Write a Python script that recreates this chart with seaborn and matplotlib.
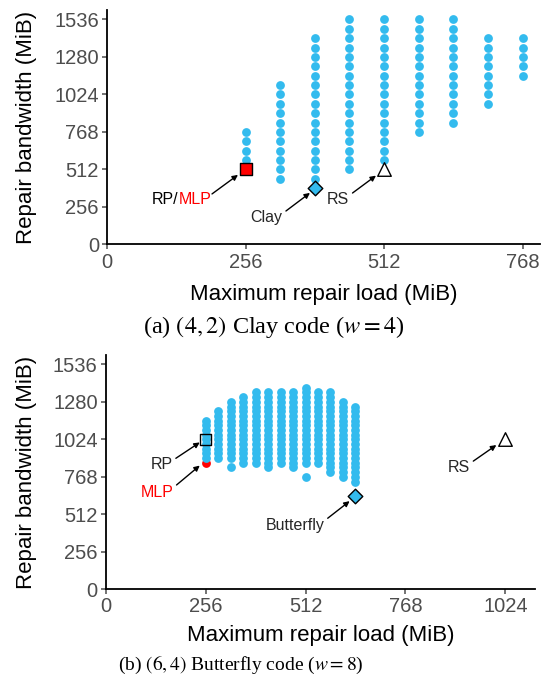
import numpy as np
import pandas as pd
import matplotlib
matplotlib.use("Agg")
import matplotlib.pyplot as plt
import seaborn as sns

# ---------------- Data ----------------
# Panel (a): (4,2) Clay code (w = 4); grid step 64 MiB
clay_load = [256, 320, 384, 448, 512, 576, 640, 704, 768]
clay_bw_min = [576, 448, 384, 512, 576, 768, 832, 960, 1152]
clay_bw_max = [768, 1088, 1408, 1536, 1536, 1536, 1536, 1408, 1408]
clay_step = 64
clay_rpmlp = (256, 512)
clay_clay = (384, 384)
clay_rs = (512, 512)

# Panel (b): (6,4) Butterfly code (w = 8); grid step 32 MiB
bf_load = [256, 288, 320, 352, 384, 416, 448, 480, 512, 544, 576, 608, 640]
bf_bw_min = [896, 896, 896, 864, 864, 832, 864, 832, 864, 864, 800, 768, 736]
bf_bw_max = [1152, 1216, 1280, 1312, 1344, 1344, 1344, 1344, 1376, 1344, 1344, 1280, 1248]
bf_extra_load = [320, 512]
bf_extra_bw = [832, 768]
bf_step = 32
bf_rp = (256, 1024)
bf_mlp = (256, 864)
bf_butterfly = (640, 640)
bf_rs = (1024, 1024)

y_ticks = [0, 256, 512, 768, 1024, 1280, 1536]
x_ticks_a = [0, 256, 512, 768]
x_ticks_b = [0, 256, 512, 768, 1024]


def grid_frame(loads, lo, hi, step, extra_x=(), extra_y=()):
    xs, ys = [], []
    for x, a, b in zip(loads, lo, hi):
        for y in range(a, b + 1, step):
            xs.append(x)
            ys.append(y)
    xs += list(extra_x)
    ys += list(extra_y)
    return pd.DataFrame({"load": xs, "bw": ys})


df_a = grid_frame(clay_load, clay_bw_min, clay_bw_max, clay_step)
df_b = grid_frame(bf_load, bf_bw_min, bf_bw_max, bf_step, bf_extra_load, bf_extra_bw)

# ---------------- Style ----------------
sns.set_theme(style="ticks")
plt.rcParams["font.family"] = ["Liberation Sans", "DejaVu Sans"]
plt.rcParams["mathtext.fontset"] = "stix"

BLUE = "#33BBEE"
RED = "#FF0000"
TICKC = "#4D4D4D"

fig = plt.figure(figsize=(5.42, 6.84), dpi=100)
W, H = 542, 684
box1 = (107, 10, 540, 244.5)      # left, top, right, bottom in px
box2 = (105.7, 355, 535, 589.3)


def add_ax(box):
    l, t, r, b = box
    return fig.add_axes([l / W, (H - b) / H, (r - l) / W, (b - t) / H])


ax1 = add_ax(box1)
ax2 = add_ax(box2)


def style_axis(ax, box, xlim, xticks, xlab_off):
    l, t, r, b = box
    w, h = r - l, b - t
    ax.set_xlim(*xlim)
    ax.set_ylim(0, 1600)
    ax.set_xticks(xticks)
    ax.set_yticks(y_ticks)
    ax.set_xticklabels([str(t) for t in xticks])
    ax.set_yticklabels([str(t) for t in y_ticks])
    sns.despine(ax=ax)
    for s in ("left", "bottom"):
        ax.spines[s].set_color("black")
        ax.spines[s].set_linewidth(1.3)
    ax.tick_params(axis="both", length=3.8, width=1.1, color=TICKC,
                   labelcolor=TICKC, labelsize=14.5, pad=2.0)
    ax.set_xlabel("Maximum repair load (MiB)", fontsize=16, color="black")
    ax.set_ylabel("Repair bandwidth (MiB)", fontsize=16, color="black")
    ax.xaxis.label.set_va("center")
    ax.yaxis.label.set_va("center")
    ax.xaxis.set_label_coords(0.5, -xlab_off / h)
    ax.yaxis.set_label_coords(-(l - 27) / w, 0.5)


arrow_kw = dict(arrowstyle="-|>", color="black", lw=1.0, mutation_scale=8,
                shrinkA=0, shrinkB=0)

# ---------------- Panel (a) ----------------
style_axis(ax1, box1, (0, 800), x_ticks_a, 50.5)
sns.scatterplot(data=df_a, x="load", y="bw", ax=ax1, color=BLUE, s=40,
                linewidth=0, zorder=3, legend=False)
sns.scatterplot(x=[clay_rpmlp[0]], y=[clay_rpmlp[1]], ax=ax1, marker="s", s=70,
                color=RED, edgecolor="black", linewidth=1.0, zorder=5)
sns.scatterplot(x=[clay_clay[0]], y=[clay_clay[1]], ax=ax1, marker="D", s=55,
                color=BLUE, edgecolor="black", linewidth=1.0, zorder=5)
sns.scatterplot(x=[clay_rs[0]], y=[clay_rs[1]], ax=ax1, marker="^", s=95,
                color="white", edgecolor="black", linewidth=1.0, zorder=5)

ax1.annotate("", xy=(242, 475), xytext=(194, 345), arrowprops=arrow_kw)
ax1.text(132.5, 304, "RP/", ha="right", va="center", fontsize=11.5, color="black")
ax1.text(132.5, 304, "MLP", ha="left", va="center", fontsize=11.5, color=RED)
ax1.annotate("Clay", xy=(375, 352), xytext=(295, 181), ha="center", va="center",
             fontsize=11.5, arrowprops=dict(arrow_kw, relpos=(1.0, 0.8)))
ax1.annotate("RS", xy=(497, 470), xytext=(427, 304), ha="center", va="center",
             fontsize=11.5, arrowprops=dict(arrow_kw, relpos=(1.0, 0.8)))

# ---------------- Panel (b) ----------------
style_axis(ax2, box2, (0, 1100), x_ticks_b, 46)
sns.scatterplot(x=[bf_mlp[0]], y=[bf_mlp[1]], ax=ax2, color=RED, s=40,
                linewidth=0, zorder=2)
sns.scatterplot(data=df_b, x="load", y="bw", ax=ax2, color=BLUE, s=40,
                linewidth=0, zorder=3, legend=False)
sns.scatterplot(x=[bf_rp[0]], y=[bf_rp[1]], ax=ax2, marker="s", s=60,
                facecolor="none", edgecolor="black", linewidth=1.0, zorder=5)
sns.scatterplot(x=[bf_butterfly[0]], y=[bf_butterfly[1]], ax=ax2, marker="D", s=55,
                color=BLUE, edgecolor="black", linewidth=1.0, zorder=5)
sns.scatterplot(x=[bf_rs[0]], y=[bf_rs[1]], ax=ax2, marker="^", s=95,
                color="white", edgecolor="black", linewidth=1.0, zorder=5)

ax2.annotate("RP", xy=(241, 1003), xytext=(143, 849), ha="center", va="center",
             fontsize=11.5, arrowprops=dict(arrow_kw, relpos=(1.0, 0.8)))
ax2.annotate("MLP", xy=(241, 845), xytext=(131, 663), ha="center", va="center",
             fontsize=11.5, color=RED, arrowprops=dict(arrow_kw, relpos=(1.0, 0.8)))
ax2.annotate("Butterfly", xy=(625, 602), xytext=(485, 437), ha="center", va="center",
             fontsize=11.5, arrowprops=dict(arrow_kw, relpos=(1.0, 0.8)))
ax2.annotate("RS", xy=(1001, 985), xytext=(905, 829), ha="center", va="center",
             fontsize=11.5, arrowprops=dict(arrow_kw, relpos=(1.0, 0.8)))

# ---------------- Captions ----------------
cap_kw = dict(ha="center", va="center", color="black",
              family=["Liberation Serif", "DejaVu Serif"])
fig.text(274 / W, 1 - 327 / H, r"(a) $(4,2)$ Clay code ($w=4$)", fontsize=17.5, **cap_kw)
fig.text(241 / W, 1 - 665 / H, r"(b) $(6,4)$ Butterfly code ($w=8$)", fontsize=14, **cap_kw)

fig.savefig("out.png", dpi=100)
